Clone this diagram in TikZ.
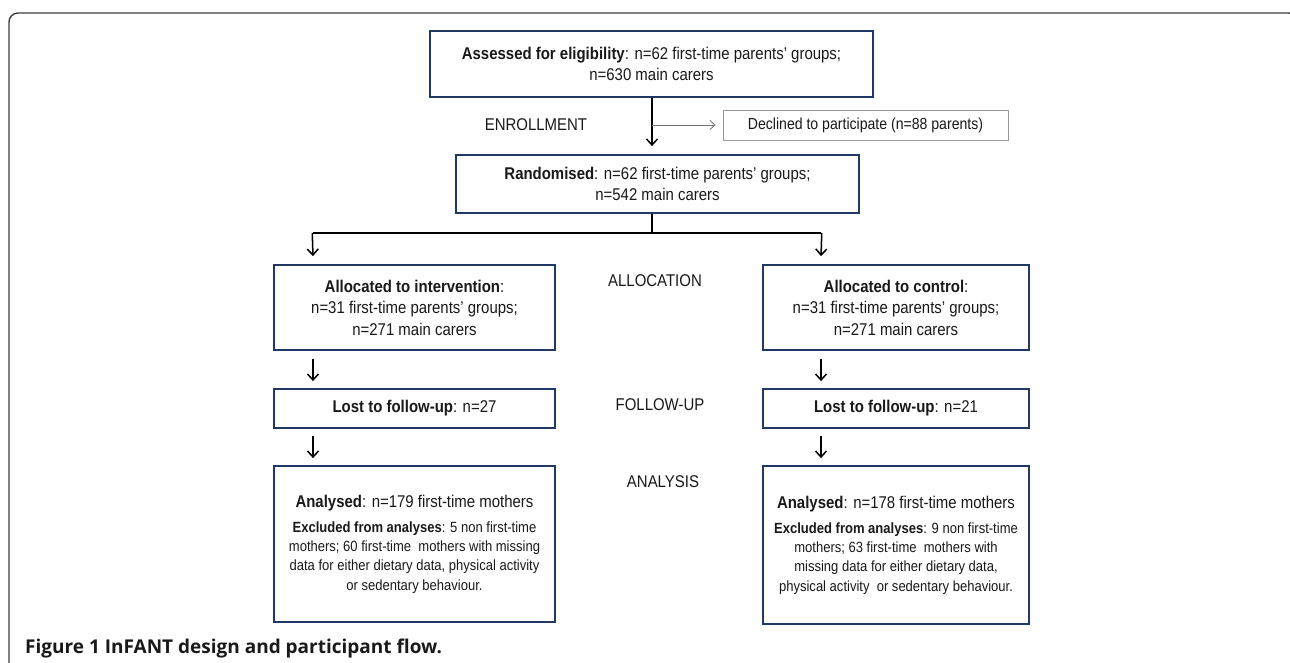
\documentclass[tikz,border=0pt]{standalone}
\usepackage{fontspec}
\setmainfont{Liberation Sans}[FakeStretch=0.88]
\newfontfamily\capfont{Open Sans}
\usetikzlibrary{arrows.meta}
\definecolor{navy}{RGB}{31,56,100}
\definecolor{framecol}{RGB}{60,60,60}
\definecolor{txt}{RGB}{25,25,25}
\begin{document}
\begin{tikzpicture}[x=1pt,y=-1pt,
  every node/.style={text=txt},
  mainfont/.style={font=\fontsize{17}{21.5}\selectfont},
  flowbox/.style={draw=navy, line width=1.8pt, fill=white, align=center, inner sep=0pt, mainfont},
  anabox/.style={flowbox, font=\fontsize{14.8}{19.3}\selectfont},
  greybox/.style={draw=black!40, line width=0.9pt, fill=white, align=center, inner sep=0pt, font=\fontsize{16}{19}\selectfont},
  stagelabel/.style={mainfont},
  arr/.style={draw=black, line width=1.5pt, -{Straight Barb[length=6pt,width=11pt,line width=1.5pt]}},
  thinarr/.style={draw=black!55, line width=0.8pt, -{Straight Barb[length=5pt,width=9pt]}},
  conn/.style={draw=black, line width=1.5pt},
  framestyle/.style={draw=framecol, line width=1.4pt, rounded corners=9pt}
]
\useasboundingbox (0,0) rectangle (1290,663);
\begin{scope}
  \clip (0,0) rectangle (1290,663);
  \draw[framestyle] (9,13) rectangle (1298,720);
\end{scope}

% boxes
\node[flowbox, minimum width=443pt, minimum height=66pt] (assess) at (651.5,64)
  {\textbf{Assessed for eligibility}: n=62 first-time parents' groups;\\ n=630 main carers};
\node[greybox, minimum width=285pt, minimum height=30pt] (declined) at (865.5,125)
  {Declined to participate (n=88 parents)};
\node[flowbox, minimum width=403pt, minimum height=58pt] (rand) at (657.5,184)
  {\textbf{Randomised}: n=62 first-time parents' groups;\\ n=542 main carers};

\node[flowbox, minimum width=281pt, minimum height=85pt] (alloci) at (414.5,307.5)
  {\textbf{Allocated to intervention}:\\ n=31 first-time parents' groups;\\ n=271 main carers};
\node[flowbox, minimum width=266pt, minimum height=85pt] (allocc) at (896,307.5)
  {\textbf{Allocated to control}:\\ n=31 first-time parents' groups;\\ n=271 main carers};

\node[flowbox, minimum width=281pt, minimum height=39pt] (losti) at (414.5,408.5)
  {\textbf{Lost to follow-up}: n=27};
\node[flowbox, minimum width=266pt, minimum height=39pt] (lostc) at (896,408.5)
  {\textbf{Lost to follow-up}: n=21};

\node[anabox, minimum width=281pt, minimum height=156pt] (anai) at (414.5,544)
  {\fontsize{17}{21}\selectfont\textbf{Analysed}: n=179 first-time mothers\\[6pt]
   \textbf{Excluded from analyses}: 5 non first-time\\
   mothers; 60 first-time\ \ mothers with missing\\
   data for either dietary data, physical activity\\
   or sedentary behaviour.};
\node[anabox, minimum width=266pt, minimum height=158pt] (anac) at (896,545)
  {\fontsize{17}{21}\selectfont\textbf{Analysed}: n=178 first-time mothers\\[6pt]
   \textbf{Excluded from analyses}: 9 non first-time\\
   mothers; 63 first-time\ \ mothers with\\
   missing data for either dietary data,\\
   physical activity\ \ or sedentary behaviour.};

% stage labels
\node[stagelabel] (enrol) at (536,125) {ENROLLMENT};
\node[stagelabel] (allocl) at (655,281) {ALLOCATION};
\node[stagelabel] (follow) at (660,405) {FOLLOW-UP};
\node[stagelabel] (analy) at (663,482) {ANALYSIS};

% connectors
\coordinate (split) at (652,233);
\coordinate (jl) at (313,233);
\coordinate (jr) at (821,233);

\draw[arr] (split |- assess.south) -- ([yshift=8pt]split |- rand.north);
\draw[thinarr] (split |- declined.west) -- ([xshift=-7pt]declined.west);
\draw[conn] (split |- rand.south) -- (split);
\draw[conn] (jl) -- (jr);
\draw[arr] ([xshift=-0.75pt]jl) -- ([yshift=8pt]jl |- alloci.north);
\draw[arr] ([xshift=0.75pt]jr) -- ([yshift=8pt]jr |- allocc.north);
\draw[arr] ([yshift=-8pt]jl |- alloci.south) -- ([yshift=7pt]jl |- losti.north);
\draw[arr] ([yshift=-8pt]jr |- allocc.south) -- ([yshift=7pt]jr |- lostc.north);
\draw[arr] ([yshift=-7pt]jl |- losti.south) -- ([yshift=7pt]jl |- anai.north);
\draw[arr] ([yshift=-7pt]jr |- lostc.south) -- ([yshift=7pt]jr |- anac.north);

% caption
\node[anchor=west, inner sep=0pt, font=\capfont\fontsize{19}{23}\selectfont, text=black!90] (cap) at (25,649)
  {\textbf{Figure 1} \textbf{InFANT design and participant flow.}};
\end{tikzpicture}
\end{document}
